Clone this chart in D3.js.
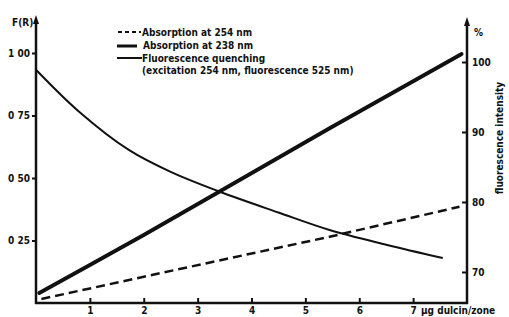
<!DOCTYPE html>
<html><head><meta charset="utf-8">
<script src="https://cdn.jsdelivr.net/npm/d3@7"></script>
<style>
body{margin:0;background:#fff;}
svg text{font-family:"DejaVu Sans Condensed","DejaVu Sans",sans-serif;font-stretch:condensed;font-weight:bold;fill:#111;}
</style></head><body>
<svg id="c" width="509" height="317"></svg>
<script>
// Data
const xTicks = [1,2,3,4,5,6,7];
const leftTicks = [0.25,0.5,0.75,1.0];
const leftTickLabels = ["0 25","0 50","0 75","1 00"];
const rightTicks = [70,80,90,100];
const abs254X = [0.1, 2, 4, 5.45, 7.86];
const abs254Y = [0.016, 0.105, 0.198, 0.265, 0.385];
const abs238X = [0.06, 1, 2, 3.4, 5.45, 7.9];
const abs238Y = [0.04, 0.152, 0.272, 0.445, 0.699, 0.996];
const fluoX = [0, 0.8, 1.73, 2.5, 3.4, 4.5, 5.45, 6.5, 7.55];
const fluoY = [98.9, 92.9, 87.4, 84.3, 81.5, 78.5, 76.0, 73.9, 72.0];
const legendLabels = ["Absorption at 254 nm","Absorption at 238 nm","Fluorescence quenching","(excitation 254 nm, fluorescence 525 nm)"];

const svg = d3.select("#c");
const L = 36, R = 467, B = 303, TOP = 15;
const x = d3.scaleLinear().domain([0,8]).range([L, R]);
const yL = d3.scaleLinear().domain([0,1]).range([B, 53]);
const yR = d3.scaleLinear().domain([70,100]).range([272, 62]);
const ink = "#111";

// Axes
const gL = svg.append("g").attr("transform",`translate(${L},0)`)
  .call(d3.axisLeft(yL).tickValues(leftTicks).tickSize(4).tickPadding(2)
    .tickFormat((d,i)=>leftTickLabels[i]));
const gR = svg.append("g").attr("transform",`translate(${R},0)`)
  .call(d3.axisRight(yR).tickValues(rightTicks).tickSize(-5).tickPadding(5));
const gB = svg.append("g").attr("transform",`translate(0,${B})`)
  .call(d3.axisBottom(x).tickValues(xTicks).tickSize(-5).tickPadding(4));
[gL,gR,gB].forEach(g=>{
  g.select(".domain").remove();
  g.selectAll(".tick line").attr("stroke",ink).attr("stroke-width",2);
  g.selectAll(".tick text").attr("font-size",10).style("font-family",null);
  g.attr("font-family",null).attr("font-size",null);
});
gB.selectAll(".tick text").attr("dy","0.7em");

// axis lines
svg.append("line").attr("x1",L).attr("x2",L).attr("y1",B+1).attr("y2",TOP+6).attr("stroke",ink).attr("stroke-width",2.5);
svg.append("line").attr("x1",R).attr("x2",R).attr("y1",B+1).attr("y2",TOP+8).attr("stroke",ink).attr("stroke-width",2.5);
svg.append("line").attr("x1",L-1).attr("x2",R+1).attr("y1",B).attr("y2",B).attr("stroke",ink).attr("stroke-width",2.5);
// arrowheads
svg.append("path").attr("d",`M${L-3},${TOP+9}L${L},${TOP}L${L+3},${TOP+9}Z`).attr("fill",ink);
svg.append("path").attr("d",`M${R-3},${TOP+11}L${R},${TOP+2}L${R+3},${TOP+11}Z`).attr("fill",ink);

// axis titles
svg.append("text").attr("x",12).attr("y",26).attr("font-size",10).text("F(R)");
svg.append("text").attr("x",474).attr("y",36).attr("font-size",10).text("%");
svg.append("text").attr("transform","translate(503,138) rotate(-90)").attr("text-anchor","middle").attr("font-size",10).text("fluorescence intensity");
svg.append("text").attr("x",421).attr("y",314).attr("font-size",10).text("µg dulcin/zone");

// Lines
const lineL = d3.line().x(d=>x(d[0])).y(d=>yL(d[1]));
const lineR = d3.line().x(d=>x(d[0])).y(d=>yR(d[1])).curve(d3.curveCatmullRom);
svg.append("path").attr("d",lineL(abs254X.map((v,i)=>[v,abs254Y[i]])))
  .attr("fill","none").attr("stroke",ink).attr("stroke-width",2.5).attr("stroke-dasharray","9,5");
svg.append("path").attr("d",lineL(abs238X.map((v,i)=>[v,abs238Y[i]])))
  .attr("fill","none").attr("stroke",ink).attr("stroke-width",3.8).attr("stroke-linecap","round");
svg.append("path").attr("d",lineR(fluoX.map((v,i)=>[v,fluoY[i]])))
  .attr("fill","none").attr("stroke",ink).attr("stroke-width",2);

// Legend
const lg = svg.append("g");
lg.append("line").attr("x1",118).attr("x2",141).attr("y1",32).attr("y2",32).attr("stroke",ink).attr("stroke-width",2).attr("stroke-dasharray","4,3");
lg.append("line").attr("x1",117).attr("x2",137).attr("y1",46).attr("y2",46).attr("stroke",ink).attr("stroke-width",3);
lg.append("line").attr("x1",117).attr("x2",142).attr("y1",58).attr("y2",58).attr("stroke",ink).attr("stroke-width",2);
const ly = [36, 49, 62, 74];
const lx = [142, 143, 142, 142];
legendLabels.forEach((t,i)=>lg.append("text").attr("x",lx[i]).attr("y",ly[i]).attr("font-size",10).text(t));
</script></body></html>
